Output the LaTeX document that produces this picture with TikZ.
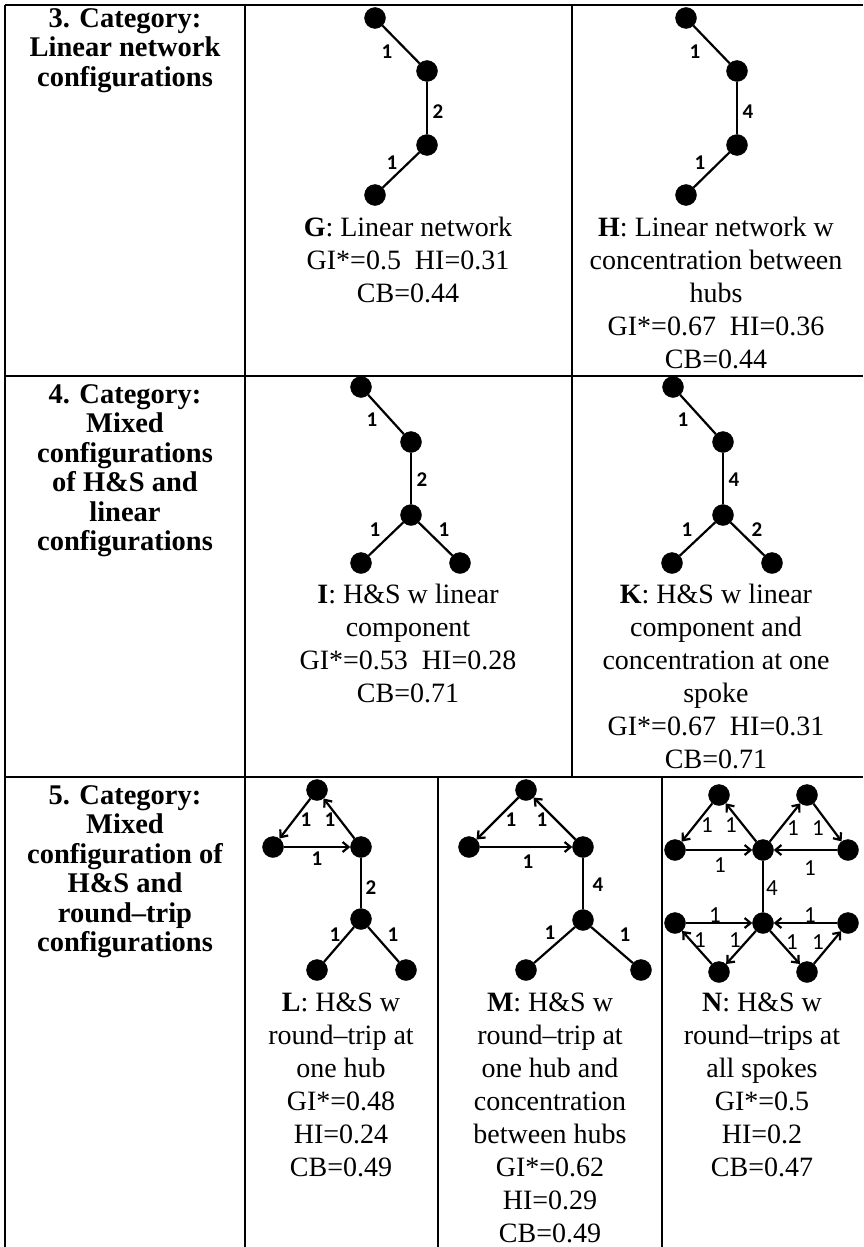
\documentclass[tikz,border=0pt]{standalone}
\usepackage{fontspec}
\setmainfont{Liberation Serif}
\newfontfamily\numfont{Carlito}
\usetikzlibrary{arrows.meta}

\begin{document}
\begin{tikzpicture}
		[   x=1pt,y=-1pt,
		    cnode/.style={draw=black,fill=#1,minimum size=21pt,inner sep=0pt,circle},
		    wnode/.style={font=\numfont\bfseries\fontsize{21}{21}\selectfont,inner sep=0pt},
		    lnode/.style={font=\numfont\fontsize{23}{23}\selectfont,inner sep=0pt},
		    txt/.style={align=center,anchor=north,inner sep=0pt,font=\fontsize{28}{33}\selectfont},
		    cat/.style={align=center,anchor=north,inner sep=0pt,font=\fontsize{28.5}{29.5}\selectfont\bfseries},
		    grid line/.style={line width=2.2pt},
		]
		\tikzset{normal arrow/.style={draw,line width=2.2pt,-{Straight Barb[length=6pt,width=10pt]}}}
		\tikzset{normal edge/.style={draw,line width=2.2pt}}
		\useasboundingbox (0,0) rectangle (863,1247);
		
		% table rules
		\draw[grid line] (5,5) -- (863,5);
		\draw[grid line] (5,376) -- (863,376);
		\draw[grid line] (5,777) -- (863,777);
		\draw[grid line] (5,5) -- (5,1247);
		\draw[grid line] (245,5) -- (245,1247);
		\draw[grid line] (572,5) -- (572,777);
		\draw[grid line] (438,777) -- (438,1247);
		\draw[grid line] (662,777) -- (662,1247);
		
		% category column
		\node[cat] (cat-3) at (125,8) {3. Category:\\Linear network\\configurations};
		\node[cat] (cat-4) at (125,384) {4. Category:\\Mixed\\configurations\\of H\&S and\\linear\\configurations};
		\node[cat] (cat-5) at (125,785) {5. Category:\\Mixed\\configuration of\\H\&S and\\round--trip\\configurations};
		
		% G: linear network
		\node[cnode=black] (g-1) at (375,18) {};
		\node[cnode=black] (g-2) at (427,71) {};
		\node[cnode=black] (g-3) at (427,145) {};
		\node[cnode=black] (g-4) at (375,195) {};
		\node[wnode] (gw-1) at (387,52) {1};
		\node[wnode] (gw-2) at (438,112) {2};
		\node[wnode] (gw-3) at (392,163) {1};
		\foreach \x/\y in {1/2,2/3,3/4}
		{
			\path[normal edge] (g-\x) -- (g-\y);
		}
		\node[txt] (txt-g) at (408,217) {\textbf{G}: Linear network\\GI*=0.5~~HI=0.31\\CB=0.44};
		
		% H: concentration between hubs
		\node[cnode=black] (h-1) at (686,18) {};
		\node[cnode=black] (h-2) at (737,71) {};
		\node[cnode=black] (h-3) at (737,145) {};
		\node[cnode=black] (h-4) at (686,195) {};
		\node[wnode] (hw-1) at (695,52) {1};
		\node[wnode] (hw-2) at (748,112) {4};
		\node[wnode] (hw-3) at (700,163) {1};
		\foreach \x/\y in {1/2,2/3,3/4}
		{
			\path[normal edge] (h-\x) -- (h-\y);
		}
		\node[txt] (txt-h) at (716,217) {\textbf{H}: Linear network w\\concentration between\\hubs\\GI*=0.67~~HI=0.36\\CB=0.44};
		
		% I: H&S with linear part
		\node[cnode=black] (i-1) at (361,387) {};
		\node[cnode=black] (i-2) at (411,442) {};
		\node[cnode=black] (i-3) at (411,515) {};
		\node[cnode=black] (i-4) at (361,563) {};
		\node[cnode=black] (i-5) at (460,563) {};
		\node[wnode] (iw-1) at (372,420) {1};
		\node[wnode] (iw-2) at (422,480) {2};
		\node[wnode] (iw-3) at (375,530) {1};
		\node[wnode] (iw-4) at (444,530) {1};
		\foreach \x/\y in {1/2,2/3,3/4,3/5}
		{
			\path[normal edge] (i-\x) -- (i-\y);
		}
		\node[txt] (txt-i) at (408,584) {\textbf{I}: H\&S w linear\\component\\GI*=0.53~~HI=0.28\\CB=0.71};
		
		% K: concentration at one spoke
		\node[cnode=black] (k-1) at (673,387) {};
		\node[cnode=black] (k-2) at (723,442) {};
		\node[cnode=black] (k-3) at (723,515) {};
		\node[cnode=black] (k-4) at (672,563) {};
		\node[cnode=black] (k-5) at (772,563) {};
		\node[wnode] (kw-1) at (683,420) {1};
		\node[wnode] (kw-2) at (734,480) {4};
		\node[wnode] (kw-3) at (687,530) {1};
		\node[wnode] (kw-4) at (757,530) {2};
		\foreach \x/\y in {1/2,2/3,3/4,3/5}
		{
			\path[normal edge] (k-\x) -- (k-\y);
		}
		\node[txt] (txt-k) at (716,584) {\textbf{K}: H\&S w linear\\component and\\concentration at one\\spoke\\GI*=0.67~~HI=0.31\\CB=0.71};
		
		% L: round-trip at one hub
		\node[cnode=black] (l-1) at (317,790) {};
		\node[cnode=black] (l-2) at (273,847) {};
		\node[cnode=black] (l-3) at (361,847) {};
		\node[cnode=black] (l-4) at (361,919) {};
		\node[cnode=black] (l-5) at (317,970) {};
		\node[cnode=black] (l-6) at (406,970) {};
		\node[wnode] (lw-1) at (306,820) {1};
		\node[wnode] (lw-2) at (330,820) {1};
		\node[wnode] (lw-3) at (317,859) {1};
		\node[wnode] (lw-4) at (371,888) {2};
		\node[wnode] (lw-5) at (335,935) {1};
		\node[wnode] (lw-6) at (393,935) {1};
		\foreach \x/\y in {1/2,2/3,3/1}
		{
			\path[normal arrow] (l-\x) -- (l-\y);
		}
		\foreach \x/\y in {3/4,4/5,4/6}
		{
			\path[normal edge] (l-\x) -- (l-\y);
		}
		\node[txt] (txt-l) at (341,993) {\textbf{L}: H\&S w\\round--trip at\\one hub\\GI*=0.48\\HI=0.24\\CB=0.49};
		
		% M: round-trip and concentration between hubs
		\node[cnode=black] (m-1) at (526,790) {};
		\node[cnode=black] (m-2) at (469,847) {};
		\node[cnode=black] (m-3) at (583,847) {};
		\node[cnode=black] (m-4) at (583,920) {};
		\node[cnode=black] (m-5) at (526,970) {};
		\node[cnode=black] (m-6) at (641,970) {};
		\node[wnode] (mw-1) at (511,820) {1};
		\node[wnode] (mw-2) at (542,820) {1};
		\node[wnode] (mw-3) at (528,862) {1};
		\node[wnode] (mw-4) at (598,885) {4};
		\node[wnode] (mw-5) at (550,933) {1};
		\node[wnode] (mw-6) at (625,935) {1};
		\foreach \x/\y in {1/2,2/3,3/1}
		{
			\path[normal arrow] (m-\x) -- (m-\y);
		}
		\foreach \x/\y in {3/4,4/5,4/6}
		{
			\path[normal edge] (m-\x) -- (m-\y);
		}
		\node[txt] (txt-m) at (550,993) {\textbf{M}: H\&S w\\round--trip at\\one hub and\\concentration\\between hubs\\GI*=0.62\\HI=0.29\\CB=0.49};
		
		% N: round-trips at all spokes
		\node[cnode=black] (n-1) at (719,795) {};
		\node[cnode=black] (n-2) at (675,850) {};
		\node[cnode=black] (n-3) at (763,850) {};
		\node[cnode=black] (n-4) at (807,795) {};
		\node[cnode=black] (n-5) at (848,850) {};
		\node[cnode=black] (n-6) at (763,923) {};
		\node[cnode=black] (n-7) at (675,923) {};
		\node[cnode=black] (n-8) at (719,972) {};
		\node[cnode=black] (n-9) at (807,972) {};
		\node[cnode=black] (n-10) at (848,923) {};
		\node[lnode] (nw-1) at (707,825) {1};
		\node[lnode] (nw-2) at (731,825) {1};
		\node[lnode] (nw-3) at (720,865) {1};
		\node[lnode] (nw-4) at (793,828) {1};
		\node[lnode] (nw-5) at (818,828) {1};
		\node[lnode] (nw-6) at (810,868) {1};
		\node[lnode] (nw-7) at (772,888) {4};
		\node[lnode] (nw-8) at (715,915) {1};
		\node[lnode] (nw-9) at (700,940) {1};
		\node[lnode] (nw-10) at (735,940) {1};
		\node[lnode] (nw-11) at (810,915) {1};
		\node[lnode] (nw-12) at (792,942) {1};
		\node[lnode] (nw-13) at (818,942) {1};
		\foreach \x/\y in {1/2,2/3,3/1,3/4,4/5,5/3,7/6,6/8,8/7,10/6,6/9,9/10}
		{
			\path[normal arrow] (n-\x) -- (n-\y);
		}
		\path[normal edge] (n-3) -- (n-6);
		\node[txt] (txt-n) at (762,993) {\textbf{N}: H\&S w\\round--trips at\\all spokes\\GI*=0.5\\HI=0.2\\CB=0.47};
		
\end{tikzpicture}
\end{document}
